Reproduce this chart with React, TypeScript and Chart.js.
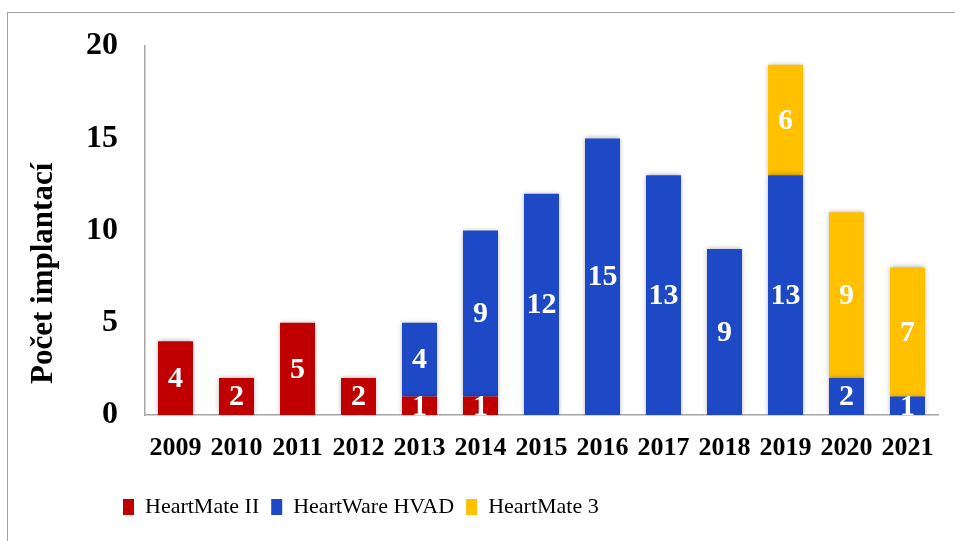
import React, { useEffect, useRef } from 'react';
import { Chart, registerables } from 'chart.js';

Chart.register(...registerables);

const years = ['2009', '2010', '2011', '2012', '2013', '2014', '2015', '2016', '2017', '2018', '2019', '2020', '2021'];
const heartMateII = [4, 2, 5, 2, 1, 1, 0, 0, 0, 0, 0, 0, 0];
const heartWareHVAD = [0, 0, 0, 0, 4, 9, 12, 15, 13, 9, 13, 2, 1];
const heartMate3 = [0, 0, 0, 0, 0, 0, 0, 0, 0, 0, 6, 9, 7];
const yTickValues = [0, 5, 10, 15, 20];
const seriesNames = ['HeartMate II', 'HeartWare HVAD', 'HeartMate 3'];
const yTitle = 'Počet implantací';

const FONT = '"Liberation Serif", "Times New Roman", serif';
const COLORS = ['#C00000', '#1D48C6', '#FFC000'];

const barDecor = {
  id: 'barDecor',
  beforeDatasetsDraw(chart: any) {
    const ctx = chart.ctx;
    ctx.save();
    ctx.shadowColor = 'rgba(0,0,0,0.35)';
    ctx.shadowBlur = 5;
    ctx.shadowOffsetX = 0;
    ctx.shadowOffsetY = 0;
  },
  afterDatasetsDraw(chart: any) {
    const ctx = chart.ctx;
    ctx.restore();
    ctx.save();
    ctx.font = `bold 30px ${FONT}`;
    ctx.fillStyle = '#ffffff';
    ctx.textAlign = 'center';
    ctx.textBaseline = 'middle';
    chart.data.datasets.forEach((ds: any, i: number) => {
      const meta = chart.getDatasetMeta(i);
      meta.data.forEach((el: any, j: number) => {
        const v = ds.data[j];
        if (!v) return;
        const p = el.getProps(['x', 'y', 'base'], true);
        ctx.fillText(String(v), p.x, (p.y + p.base) / 2 + 1);
      });
    });
    ctx.restore();
  },
};

const legendShift = {
  id: 'legendShift',
  afterLayout(chart: any) {
    const l = chart.legend;
    if (l) {
      l.left += 101;
      l.right += 101;
    }
  },
};

export default function App() {
  const ref = useRef<HTMLCanvasElement | null>(null);

  useEffect(() => {
    if (!ref.current) return;
    const chart = new Chart(ref.current, {
      type: 'bar',
      data: {
        labels: years,
        datasets: [
          { label: seriesNames[0], data: heartMateII, backgroundColor: COLORS[0] },
          { label: seriesNames[1], data: heartWareHVAD, backgroundColor: COLORS[1] },
          { label: seriesNames[2], data: heartMate3, backgroundColor: COLORS[2] },
        ],
      },
      options: {
        animation: false,
        responsive: true,
        maintainAspectRatio: false,
        datasets: { bar: { categoryPercentage: 0.574, barPercentage: 1 } },
        layout: { padding: { left: 10, top: 45, right: 17, bottom: 13 } },
        scales: {
          x: {
            stacked: true,
            grid: { display: false, drawTicks: false },
            border: { display: true, color: '#a6a6a6', width: 1.5 },
            ticks: { color: '#000', padding: 18, font: { family: FONT, size: 26, weight: 'bold' } },
            afterFit(scale: any) {
              scale.height = 69;
            },
          },
          y: {
            stacked: true,
            min: 0,
            max: 20,
            grid: { display: false, drawTicks: false },
            border: { display: true, color: '#a6a6a6', width: 1.5 },
            afterBuildTicks(scale: any) {
              scale.ticks = yTickValues.map((v) => ({ value: v }));
            },
            ticks: { color: '#000', padding: 27, font: { family: FONT, size: 32, weight: 'bold' } },
            title: {
              display: true,
              text: '    ' + yTitle,
              align: 'start',
              color: '#000',
              padding: { top: 15, bottom: 0 },
              font: { family: FONT, size: 31, weight: 'bold' },
            },
            afterFit(scale: any) {
              scale.width = 135;
            },
          },
        },
        plugins: {
          legend: {
            position: 'bottom',
            align: 'start',
            labels: {
              boxWidth: 11,
              boxHeight: 16,
              padding: 12,
              color: '#000',
              font: { family: FONT, size: 22 },
            },
          },
          tooltip: { enabled: false },
        },
      },
      plugins: [barDecor, legendShift],
    } as any);
    return () => chart.destroy();
  }, []);

  return (
    <div style={{ position: 'fixed', left: 0, top: 0, width: 955, height: 541, overflow: 'hidden', background: '#fff' }}>
      <div
        style={{
          position: 'absolute',
          left: 7,
          top: 12,
          width: 1000,
          height: 600,
          border: '1.5px solid #a0a0a0',
          boxSizing: 'border-box',
        }}
      />
      <div style={{ position: 'absolute', left: 0, top: 0, width: 955, height: 541 }}>
        <canvas ref={ref} />
      </div>
    </div>
  );
}
